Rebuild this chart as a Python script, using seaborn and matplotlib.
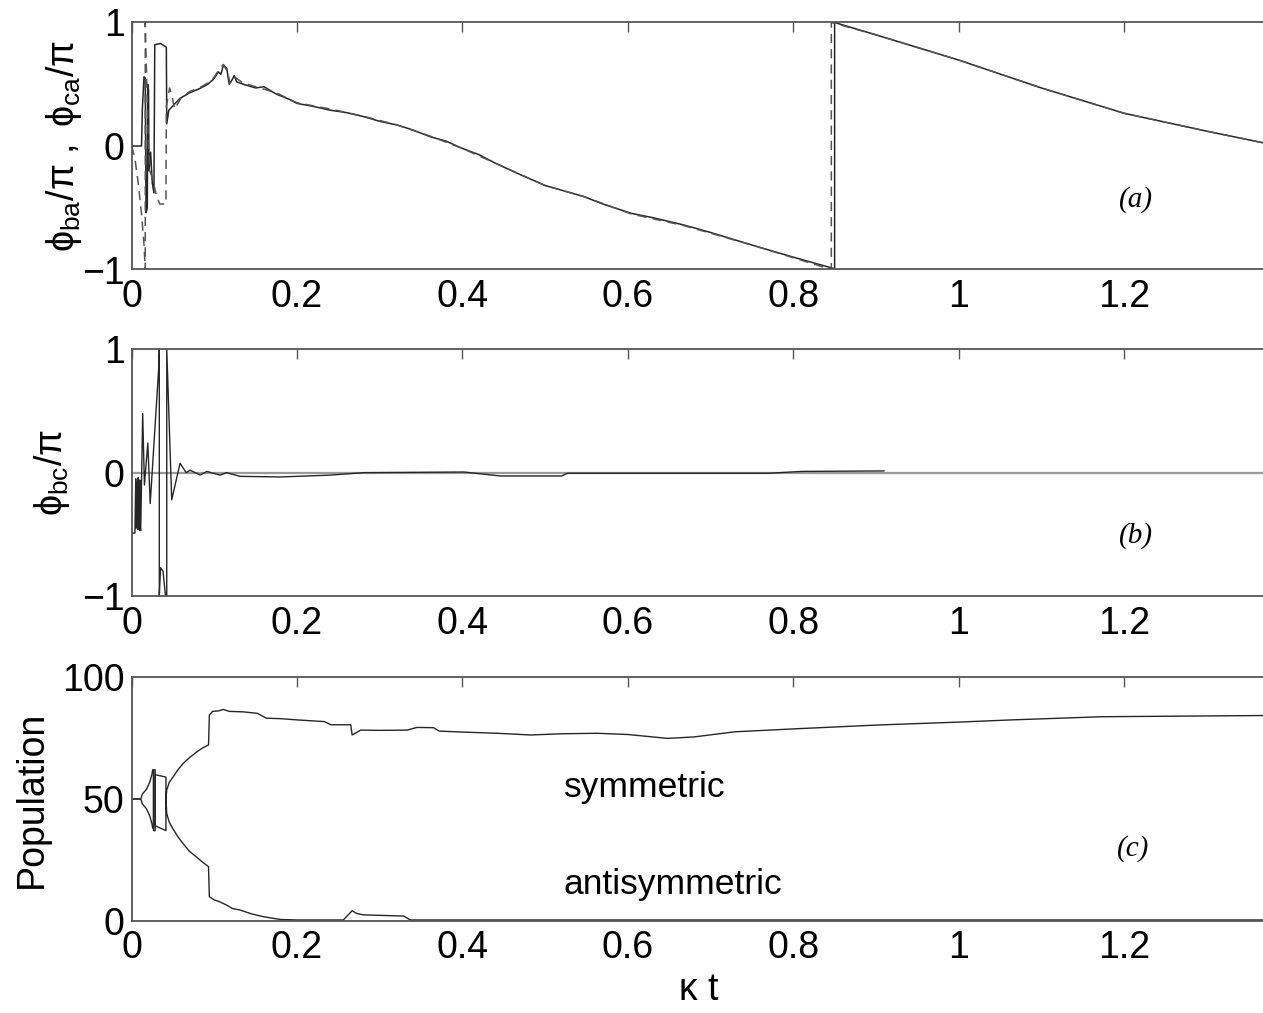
import numpy as np
import pandas as pd
import matplotlib
matplotlib.use("Agg")
import matplotlib.pyplot as plt
import seaborn as sns

# ---------------- data ----------------
x_ticks = [0, 0.2, 0.4, 0.6, 0.8, 1.0, 1.2]
x_tick_labels = ["0", "0.2", "0.4", "0.6", "0.8", "1", "1.2"]
phase_ticks = [-1, 0, 1]
phase_tick_labels = ["\u22121", "0", "1"]
pop_ticks = [0, 50, 100]
pop_tick_labels = ["0", "50", "100"]

# panel (a): phi_ba / pi (solid)
t_ba = [0.000, 0.012, 0.013, 0.015, 0.0165, 0.0175, 0.019, 0.0195, 0.0205, 0.021,
        0.023, 0.025, 0.027, 0.028, 0.035, 0.042, 0.0425, 0.045, 0.0586, 0.070,
        0.083, 0.092, 0.099, 0.105, 0.108, 0.111, 0.115, 0.118, 0.121, 0.124,
        0.127, 0.135, 0.150, 0.160, 0.175, 0.190, 0.200, 0.220, 0.240, 0.260,
        0.281, 0.300, 0.321, 0.340, 0.361, 0.380, 0.400, 0.420, 0.440, 0.466,
        0.500, 0.547, 0.570, 0.604, 0.630, 0.668, 0.700, 0.749, 0.800, 0.848,
        0.850, 0.850, 0.900, 1.000, 1.100, 1.200, 1.300, 1.371]
phi_ba = [0.00, 0.00, 0.30, 0.56, 0.55, -0.54, -0.50, 0.50, 0.45, -0.20,
          -0.05, -0.30, -0.38, 0.82, 0.83, 0.80, 0.18, 0.29, 0.386, 0.43,
          0.467, 0.50, 0.54, 0.60, 0.58, 0.656, 0.63, 0.50, 0.53, 0.57,
          0.52, 0.50, 0.47, 0.48, 0.42, 0.38, 0.345, 0.32, 0.29, 0.27,
          0.237, 0.20, 0.17, 0.13, 0.075, 0.04, -0.02, -0.07, -0.14, -0.22,
          -0.32, -0.41, -0.47, -0.545, -0.58, -0.64, -0.70, -0.80, -0.90, -0.99,
          -1.00, 1.00, 0.90, 0.696, 0.47, 0.265, 0.12, 0.022]

# panel (a): phi_ca / pi (dashed)
t_ca = [0.000, 0.004, 0.008, 0.012, 0.015, 0.0165, 0.0165, 0.018, 0.020, 0.022,
        0.025, 0.030, 0.034, 0.0415, 0.042, 0.046, 0.049, 0.052, 0.060, 0.070,
        0.083, 0.092, 0.099, 0.105, 0.111, 0.116, 0.119, 0.124, 0.135, 0.150,
        0.175, 0.200, 0.240, 0.281, 0.321, 0.361, 0.400, 0.440, 0.500, 0.547,
        0.604, 0.668, 0.749, 0.800, 0.846, 0.846, 0.900, 1.000, 1.100, 1.200,
        1.300, 1.371]
phi_ca = [0.00, -0.10, -0.30, -0.55, -0.80, -1.00, 1.00, 0.60, 0.06, -0.20,
          -0.26, -0.40, -0.47, -0.47, 0.32, 0.47, 0.40, 0.30, 0.39, 0.44,
          0.475, 0.51, 0.55, 0.61, 0.66, 0.60, 0.51, 0.56, 0.51, 0.48,
          0.43, 0.35, 0.30, 0.24, 0.17, 0.08, -0.02, -0.14, -0.32, -0.41,
          -0.55, -0.645, -0.80, -0.905, -1.00, 1.00, 0.90, 0.696, 0.47, 0.265,
          0.12, 0.022]

# panel (b): phi_bc / pi
t_bc = [0.000, 0.004, 0.005, 0.0055, 0.006, 0.0065, 0.007, 0.0075, 0.008, 0.0085,
        0.009, 0.0095, 0.010, 0.0105, 0.011, 0.0134, 0.0155, 0.0196, 0.0225, 0.0326,
        0.0335, 0.0335, 0.035, 0.038, 0.041, 0.0425, 0.0425, 0.0485, 0.0586, 0.066,
        0.0707, 0.083, 0.091, 0.107, 0.115, 0.131, 0.180, 0.240, 0.281, 0.402,
        0.446, 0.520, 0.527, 0.770, 0.810, 0.910]
phi_bc = [-0.49, -0.49, -0.05, -0.45, -0.08, -0.44, -0.10, -0.46, -0.04, -0.43,
          -0.12, -0.47, -0.06, -0.45, -0.47, 0.48, -0.10, 0.24, -0.25, 0.83,
          1.00, -1.00, -0.77, -0.80, -1.00, -1.00, 1.00, -0.22, 0.076, 0.00,
          0.02, -0.02, 0.01, -0.02, 0.00, -0.03, -0.035, -0.02, 0.00, 0.005,
          -0.027, -0.027, -0.005, -0.005, 0.01, 0.014]
zero_line_t = [0.0, 1.371]
zero_line_v = [0.0, 0.0]

# panel (c): populations (%)
t_sym = [0.000, 0.011, 0.013, 0.018, 0.022, 0.0245, 0.0255, 0.0265, 0.0265, 0.0285,
         0.0285, 0.0415, 0.0415, 0.0425, 0.0455, 0.0505, 0.056, 0.0626, 0.070, 0.079,
         0.086, 0.093, 0.094, 0.098, 0.105, 0.111, 0.118, 0.135, 0.152, 0.163,
         0.180, 0.200, 0.233, 0.241, 0.265, 0.2666, 0.277, 0.300, 0.333, 0.345,
         0.365, 0.372, 0.400, 0.442, 0.4826, 0.520, 0.563, 0.600, 0.648, 0.680,
         0.729, 0.800, 0.9025, 1.000, 1.064, 1.173, 1.250, 1.371]
pop_sym = [50.0, 50.0, 52.0, 54.0, 57.0, 60.0, 62.0, 61.5, 37.0, 37.0,
           60.0, 59.0, 50.0, 53.7, 56.8, 59.2, 62.0, 64.7, 67.0, 69.4,
           71.0, 72.2, 84.5, 86.0, 86.2, 86.8, 86.0, 85.8, 85.2, 83.2,
           83.0, 82.5, 81.8, 80.5, 80.5, 76.3, 78.3, 78.2, 78.3, 79.4,
           79.3, 77.9, 77.5, 77.0, 76.3, 76.8, 77.0, 76.5, 74.9, 75.5,
           77.6, 78.8, 80.4, 81.6, 82.5, 83.8, 84.0, 84.3]

t_anti = [0.000, 0.011, 0.013, 0.018, 0.022, 0.0245, 0.0255, 0.0265, 0.0265, 0.0285,
          0.0285, 0.0415, 0.0415, 0.0425, 0.0455, 0.0505, 0.056, 0.0626, 0.070, 0.079,
          0.086, 0.093, 0.094, 0.100, 0.105, 0.115, 0.122, 0.131, 0.145, 0.160,
          0.180, 0.200, 0.256, 0.2666, 0.272, 0.280, 0.300, 0.329, 0.337, 0.400,
          0.700, 1.000, 1.371]
pop_anti = [50.0, 50.0, 48.0, 46.0, 43.0, 40.0, 38.0, 38.5, 62.0, 62.0,
            39.0, 37.0, 50.0, 44.0, 40.5, 37.5, 34.5, 31.5, 28.5, 26.0,
            24.0, 22.2, 9.9, 8.5, 8.0, 6.4, 5.0, 4.4, 2.8, 1.6,
            0.5, 0.3, 0.3, 4.1, 3.0, 2.4, 2.2, 1.9, 0.3, 0.3,
            0.3, 0.3, 0.3]

# ---------------- style ----------------
sns.set_style("white")
plt.rcParams["font.family"] = ["Liberation Sans", "DejaVu Sans"]
plt.rcParams["mathtext.fontset"] = "custom"
plt.rcParams["mathtext.rm"] = "Liberation Sans"
plt.rcParams["mathtext.it"] = "Liberation Sans:italic"
plt.rcParams["mathtext.sf"] = "Liberation Sans"
plt.rcParams["axes.unicode_minus"] = True
plt.rcParams["text.color"] = "black"
plt.rcParams["axes.labelcolor"] = "black"

LINE = "#262626"
SPINE = "#555555"
TICK_FS = 27
LABEL_FS = 27
XMAX = 1.371

W, H = 1263, 1013
fig = plt.figure(figsize=(W / 100, H / 100), dpi=100)

left = 131.6 / W
width = 1.0 - left + 0.002


def make_axes(top_px, bottom_px):
    return fig.add_axes([left, 1 - bottom_px / H, width, (bottom_px - top_px) / H])


ax_a = make_axes(22.5, 269.5)
ax_b = make_axes(349.3, 596.0)
ax_c = make_axes(677.3, 920.7)


def style_axes(ax, yticks, ylabels, ylim):
    ax.set_xlim(0, XMAX)
    ax.set_ylim(*ylim)
    ax.set_xticks(x_ticks)
    ax.set_xticklabels(x_tick_labels)
    ax.set_yticks(yticks)
    ax.set_yticklabels(ylabels)
    ax.tick_params(axis="both", direction="in", length=7, width=1.0, color=SPINE,
                   labelsize=TICK_FS, labelcolor="black", top=True, right=False)
    ax.tick_params(axis="x", pad=7)
    ax.tick_params(axis="y", pad=5)
    for side in ["left", "top", "bottom"]:
        ax.spines[side].set_color(SPINE)
        ax.spines[side].set_linewidth(1.3)
    ax.spines["right"].set_visible(False)
    ax.set_xlabel("")
    ax.set_ylabel("")


# panel (a)
sns.lineplot(x=t_ba, y=phi_ba, ax=ax_a, sort=False, estimator=None,
             color=LINE, linewidth=1.1)
sns.lineplot(x=t_ca, y=phi_ca, ax=ax_a, sort=False, estimator=None,
             color="#555555", linewidth=1.1, linestyle=(0, (6, 4)))
style_axes(ax_a, phase_ticks, phase_tick_labels, (-1, 1))
ax_a.set_ylabel(r"$\mathrm{\phi}_{\rm ba}/\mathrm{\pi}\ ,\ \mathrm{\phi}_{\rm ca}/\mathrm{\pi}$",
                fontsize=LABEL_FS, va="center")
ax_a.yaxis.set_label_coords((64 - 131.6) / (W - 131.6), 0.5)
ax_a.text(1.214, -0.437, "(a)", fontsize=21, fontstyle="italic",
          family=["Liberation Serif", "DejaVu Serif"], ha="center", va="center")

# panel (b)
sns.lineplot(x=zero_line_t, y=zero_line_v, ax=ax_b, sort=False, estimator=None,
             color="#9a9a9a", linewidth=1.6)
sns.lineplot(x=t_bc, y=phi_bc, ax=ax_b, sort=False, estimator=None,
             color=LINE, linewidth=1.0)
style_axes(ax_b, phase_ticks, phase_tick_labels, (-1, 1))
ax_b.set_ylabel(r"$\mathrm{\phi}_{\rm bc}/\mathrm{\pi}$", fontsize=LABEL_FS, va="center")
ax_b.yaxis.set_label_coords((52 - 131.6) / (W - 131.6), 0.5)
ax_b.text(1.214, -0.513, "(b)", fontsize=21, fontstyle="italic",
          family=["Liberation Serif", "DejaVu Serif"], ha="center", va="center")

# panel (c)
sns.lineplot(x=t_sym, y=pop_sym, ax=ax_c, sort=False, estimator=None,
             color=LINE, linewidth=1.0)
sns.lineplot(x=t_anti, y=pop_anti, ax=ax_c, sort=False, estimator=None,
             color=LINE, linewidth=1.0)
style_axes(ax_c, pop_ticks, pop_tick_labels, (0, 100))
ax_c.set_ylabel("Population", fontsize=LABEL_FS, va="center")
ax_c.yaxis.set_label_coords((32 - 131.6) / (W - 131.6), 0.5)
ax_c.set_xlabel(r"$\mathrm{\kappa}\ \mathrm{t}$", fontsize=LABEL_FS, labelpad=4)
ax_c.text(0.5225, 54.9, "symmetric", fontsize=25.5, ha="left", va="center", color="black")
ax_c.text(0.5225, 14.7, "antisymmetric", fontsize=25.5, ha="left", va="center", color="black")
ax_c.text(1.2105, 29.7, "(c)", fontsize=21, fontstyle="italic",
          family=["Liberation Serif", "DejaVu Serif"], ha="center", va="center")

fig.savefig("out.png", dpi=100)
